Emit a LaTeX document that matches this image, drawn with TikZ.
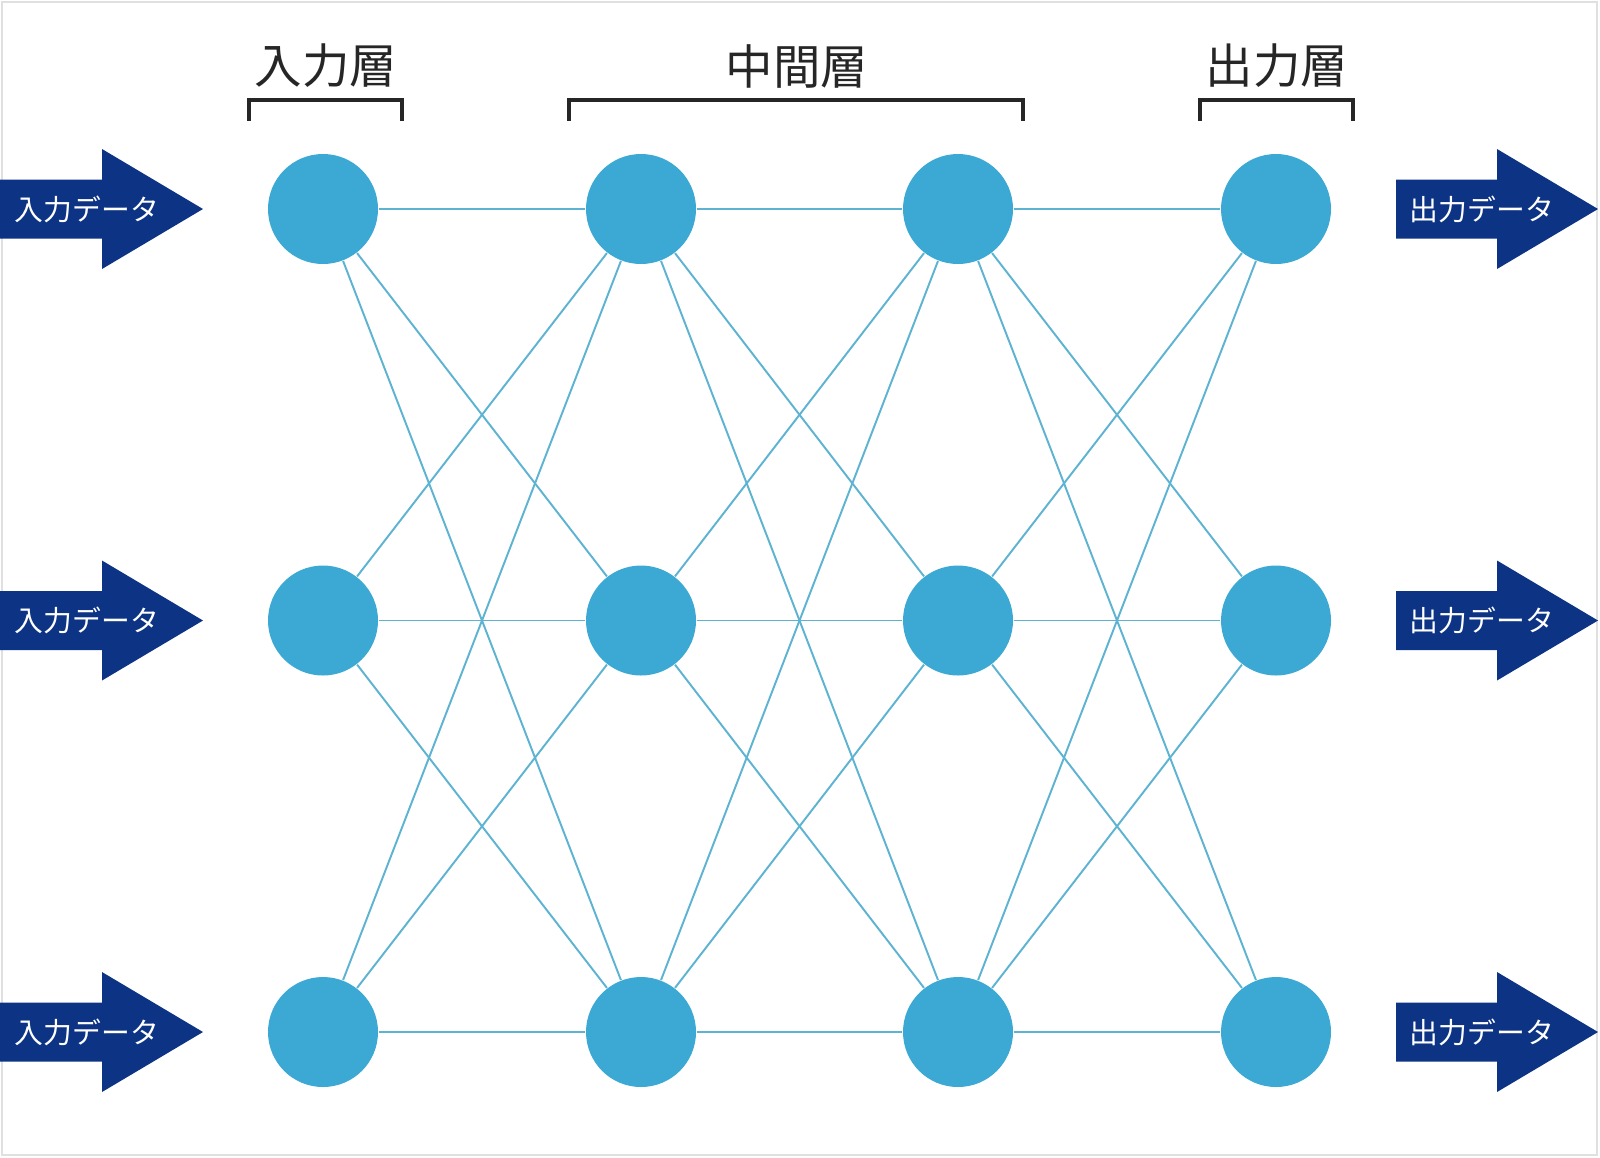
\documentclass[tikz,border=0pt]{standalone}
\usepackage{fontspec}
\setmainfont{Noto Sans CJK JP}
\usetikzlibrary{calc}
\definecolor{unitblue}{HTML}{3BA9D3}
\definecolor{linkblue}{HTML}{5DB3D1}
\definecolor{arrownavy}{HTML}{0C3384}
\tikzstyle{unit} = [circle, fill=unitblue, minimum size=1.1cm, inner sep=0pt]
\tikzstyle{link} = [draw=linkblue, line width=0.55pt]
\tikzstyle{layer} = [font=\fontsize{13.5}{16}\selectfont, text=black!85, inner sep=0pt]
\tikzstyle{bracket} = [draw=black!85, line width=1.1pt]
\tikzstyle{datatext} = [font=\fontsize{8.2}{10}\selectfont, text=white, inner sep=0pt]

\begin{document}
\begin{tikzpicture}
    \useasboundingbox (0,0) rectangle (16,-11.57);
    \draw[black!12, line width=0.6pt] (0.02,-0.02) rectangle (15.97,-11.55);
    % units of each layer, with the data arrows
    \foreach \r/\y in {1/-2.09, 2/-6.205, 3/-10.32} {
        \draw (3.23,\y) node[unit] (in\r) {};
        \draw (6.41,\y) node[unit] (ha\r) {};
        \draw (9.58,\y) node[unit] (hb\r) {};
        \draw (12.76,\y) node[unit] (out\r) {};
        \fill[arrownavy] (0,\y) ++(0,0.295) -- ++(1.02,0) -- ++(0,0.305) -- ++(1.01,-0.6)
            -- ++(-1.01,-0.6) -- ++(0,0.305) -- ++(-1.02,0) -- cycle;
        \fill[arrownavy] (13.96,\y) ++(0,0.295) -- ++(1.01,0) -- ++(0,0.305) -- ++(1.01,-0.6)
            -- ++(-1.01,-0.6) -- ++(0,0.305) -- ++(-1.01,0) -- cycle;
        \node[datatext] (din\r) at (0.87,\y) {入力データ};
        \node[datatext] (dout\r) at (14.82,\y) {出力データ};
    }
    % links
    \foreach \i in {1,2,3} {
        \foreach \j in {1,2,3} {
            \draw[link] (in\i) -- (ha\j);
            \draw[link] (ha\i) -- (hb\j);
            \draw[link] (hb\i) -- (out\j);
        }
    }
    % layer titles
    \node[layer] (inlabel) at (3.26,-0.66) {入力層};
    \node[layer] (hidlabel) at (7.97,-0.66) {中間層};
    \node[layer] (outlabel) at (12.77,-0.66) {出力層};
    \draw[bracket] (2.49,-1.21) -- (2.49,-1.0) -- (4.02,-1.0) -- (4.02,-1.21);
    \draw[bracket] (5.69,-1.21) -- (5.69,-1.0) -- (10.23,-1.0) -- (10.23,-1.21);
    \draw[bracket] (12.0,-1.21) -- (12.0,-1.0) -- (13.53,-1.0) -- (13.53,-1.21);
\end{tikzpicture}
\end{document}
